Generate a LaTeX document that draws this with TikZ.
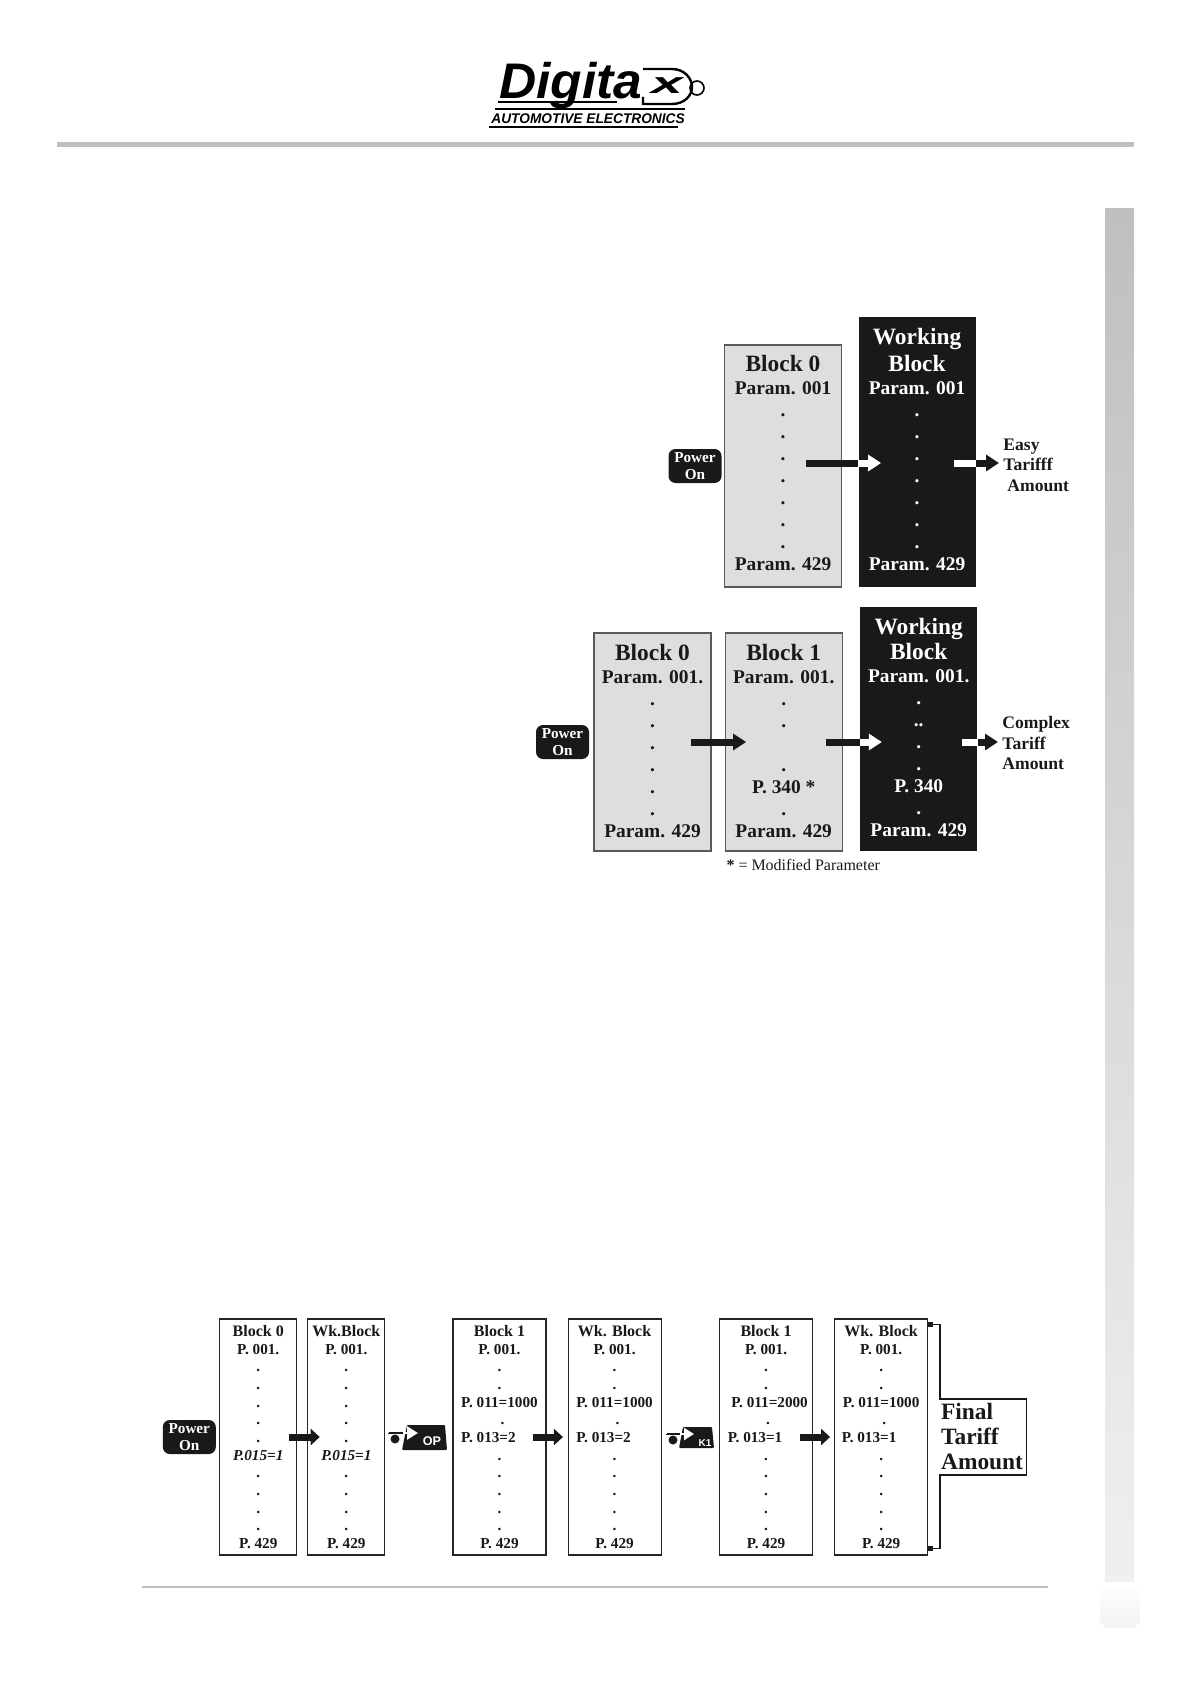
\documentclass[tikz,border=0pt]{standalone}
\usepackage{fontspec}
\setmainfont{Liberation Serif}
\setsansfont{Liberation Sans}
\usepackage{tikz}
\usetikzlibrary{arrows.meta, positioning}

\newcommand{\bigtitle}[1]{{\fontsize{11.7}{11}\selectfont #1}}
\newcommand{\lowtitle}[1]{{\fontsize{8}{8.82}\selectfont #1}}
\newcommand{\shifted}[2]{\mbox{\hspace{#1}#2}}

\begin{document}
\begin{tikzpicture}[
  x=0.5pt, y=-0.5pt,
  greyface/.style={rectangle, draw=black!65, line width=0.6pt, fill=black!13, inner sep=0pt, align=center, text=black!90},
  darkface/.style={rectangle, fill=black!90, inner sep=0pt, align=center, text=white},
  lowface/.style={rectangle, draw=black!85, line width=0.55pt, fill=white, inner sep=0pt, align=center, text=black!90,
    minimum width=38.5pt, minimum height=118pt, font=\bfseries\fontsize{7.6}{8.82}\selectfont},
  topfont/.style={minimum width=58.5pt, font=\bfseries\fontsize{9.7}{11}\selectfont,
    execute at end node={\rule[-3pt]{0pt}{0pt}}},
  midfont/.style={minimum width=58.5pt, font=\bfseries\fontsize{9.7}{11}\selectfont,
    execute at end node={\rule[-1.5pt]{0pt}{0pt}}},
  powerkey/.style={rectangle, rounded corners=3.5pt, fill=black!90, text=white, inner sep=0pt, align=center,
    minimum width=26.5pt, minimum height=17pt, font=\bfseries\fontsize{7.6}{8.5}\selectfont},
  tarifflabel/.style={inner xsep=2pt, inner ysep=0pt, align=left, text=black!90, anchor=west, font=\bfseries\fontsize{8.8}{10.25}\selectfont},
  barpart/.style={line width=3.5pt},
  tippart/.style={line width=3.5pt, -{Triangle[length=6.5pt, width=8pt]}},
  lowtip/.style={line width=3.5pt, black!90, -{Triangle[length=4.5pt, width=8pt]}},
  keytext/.style={inner sep=0pt, text=white, font=\sffamily\bfseries\fontsize{6.3}{7}\selectfont},
  keyball/.style={circle, fill=black!90, inner sep=0pt, minimum size=4.5pt},
  logoline/.style={line width=#1, black}
]
\useasboundingbox (0,0) rectangle (1191,1684);

% page furniture
\fill[black!25] (57,142) rectangle (1134,147);
\fill[black!25] (142,1586) rectangle (1048,1588);
\shade[top color=black!25, bottom color=black!6] (1105,209) rectangle (1134,1581);
\shade[top color=black!1, bottom color=black!5] (1100,1588) -- (1140,1588) -- (1140,1621) -- (1134,1628) -- (1106,1628) -- (1100,1621) -- cycle;

% logo
\node[anchor=west, inner sep=0pt, font=\sffamily\bfseries\itshape\fontsize{25}{25}\selectfont, xscale=1.03] (logoname) at (499,86) {Digita};
\node[anchor=west, inner sep=0pt, font=\sffamily\bfseries\itshape\fontsize{7}{7}\selectfont, xscale=0.98] (logosub) at (491,118.5) {AUTOMOTIVE ELECTRONICS};
\node[inner sep=0pt, font=\sffamily\bfseries\itshape\fontsize{15}{15}\selectfont, xscale=1.9] (logox) at (667,86) {x};
\node[circle, draw=black, line width=0.8pt, fill=white, inner sep=0pt, minimum size=7pt] (logoball) at (697,88) {};
\draw[logoline=1.2pt] (643,97) -- (643,104) -- (672,104) .. controls (684,104) and (692,96) .. (692,87) .. controls (692,78) and (684,69) .. (672,69) -- (643,69);
\draw[logoline=1.4pt] (498,102) -- (617,102);
\draw[logoline=0.7pt] (495,109) -- (685,109);
\draw[logoline=0.7pt] (489,127) -- (678,127);

% first chain
\node[greyface, topfont, minimum height=121pt] (blockA) at (783,466) {\bigtitle{Block 0}\\[0.5pt]Param. 001\\.\\.\\.\\.\\.\\.\\.\\Param. 429};
\node[darkface, topfont, minimum height=135pt, anchor=south west] (workA) at ([xshift=8pt]blockA.south east) {\bigtitle{Working}\\[2.5pt]\bigtitle{Block}\\[0.5pt]Param. 001\\.\\.\\.\\.\\.\\.\\.\\Param. 429};
\node[powerkey, left=1pt of blockA] (powerA) {Power\\On};
\node[tarifflabel] (easy) at (999,465) {Easy\\Tarifff\\\hspace*{2pt}Amount};
\coordinate (entryA) at ([yshift=1.5pt]blockA.east -| workA.west);
\coordinate (exitA) at (workA.east |- entryA);

\draw[barpart, black!90] ([xshift=-26pt]entryA) -- (entryA);
\draw[tippart, white] (entryA) -- ([xshift=11.5pt]entryA);
\draw[barpart, white] ([xshift=-11pt]exitA) -- (exitA);
\draw[tippart, black!90] (exitA) -- (easy.west |- exitA);

% second chain
\node[greyface, midfont, minimum height=109pt] (blockB) at (652.5,742) {\bigtitle{Block 0}\\[0.5pt]Param. 001.\\.\\.\\.\\.\\.\\.\\Param. 429};
\node[greyface, midfont, minimum height=109pt, right=6.5pt of blockB] (blockC) {\bigtitle{Block 1}\\[0.5pt]Param. 001.\\.\\.\\~\\.\\P. 340 *\\.\\Param. 429};
\node[darkface, midfont, minimum height=122pt, anchor=south west] (workB) at ([xshift=8.5pt]blockC.south east) {\bigtitle{Working}\\[1.5pt]\bigtitle{Block}\\[0.5pt]Param. 001.\\.\\..\\.\\.\\P. 340\\.\\Param. 429};
\node[powerkey, left=2pt of blockB] (powerB) {Power\\On};
\node[tarifflabel] (complex) at (998,743) {Complex\\Tariff\\Amount};
\node[anchor=west, inner xsep=0.75pt, inner ysep=0pt, font=\fontsize{8}{9}\selectfont, text=black!90] (modnote) at ([yshift=-6.5pt]blockC.south west) {{\bfseries *} = Modified Parameter};
\coordinate (entryB) at (blockC.east -| workB.west);
\coordinate (exitB) at (workB.east |- entryB);

\draw[tippart, black!90] ([xshift=-10.5pt]blockB.east) -- ([xshift=10.75pt]blockC.west);
\draw[barpart, black!90] ([xshift=-17pt]entryB) -- (entryB);
\draw[tippart, white] (entryB) -- ([xshift=11pt]entryB);
\draw[barpart, white] ([xshift=-8pt]exitB) -- (exitB);
\draw[tippart, black!90] (exitB) -- (complex.west |- exitB);

% third chain
\node[lowface] (blockD) at (258.25,1437) {\lowtitle{Block 0}\\P. 001.\\.\\.\\.\\.\\.\\\textit{P.015=1}\\.\\.\\.\\.\\P. 429};
\node[lowface, right=5pt of blockD] (workD) {\lowtitle{Wk.Block}\\P. 001.\\.\\.\\.\\.\\.\\\textit{P.015=1}\\.\\.\\.\\.\\P. 429};
\node[lowface, minimum width=46.5pt, right=33.5pt of workD] (blockE) {\lowtitle{Block 1}\\P. 001.\\.\\.\\P. 011=1000\\\shifted{3pt}{.}\\\mbox{P. 013=2\hspace{11pt}}\\.\\.\\.\\.\\.\\P. 429};
\node[lowface, minimum width=46.5pt, right=10.5pt of blockE] (workE) {\lowtitle{Wk. Block}\\P. 001.\\.\\.\\P. 011=1000\\\shifted{3pt}{.}\\\mbox{P. 013=2\hspace{11pt}}\\.\\.\\.\\.\\.\\P. 429};
\node[lowface, minimum width=46.5pt, right=28.7pt of workE] (blockF) {\lowtitle{Block 1}\\P. 001.\\.\\.\\\shifted{3.5pt}{P. 011=2000}\\\shifted{2pt}{.}\\\mbox{P. 013=1\hspace{11pt}}\\.\\.\\.\\.\\.\\P. 429};
\node[lowface, minimum width=46.5pt, right=10.5pt of blockF] (workF) {\lowtitle{Wk. Block}\\P. 001.\\.\\.\\P. 011=1000\\\shifted{3pt}{.}\\\mbox{P. 013=1\hspace{12pt}}\\.\\.\\.\\.\\.\\P. 429};
\node[powerkey, left=1.5pt of blockD] (powerD) {Power\\On};
\node[right=5.75pt of workF, minimum width=43pt, minimum height=37.5pt, inner sep=0pt, align=left, text=black!90, text width=42pt, font=\bfseries\fontsize{11.7}{12.5}\selectfont] (finalamt) {Final\\Tariff\\Amount};

\draw[lowtip] ([xshift=-4pt]blockD.east) -- ([xshift=6.2pt]workD.west);
\draw[lowtip] ([xshift=-6.8pt]blockE.east) -- ([xshift=-2.3pt]workE.west);
\draw[lowtip] ([xshift=-6.5pt]blockF.east) -- ([xshift=-2pt]workF.west);

\coordinate (tophook) at ([yshift=-3pt]workF.north east);
\coordinate (lowhook) at ([yshift=3.5pt]workF.south east);
\draw[line width=0.8pt, black!90, {Square[length=2.2pt, width=2.2pt]}-{Square[length=2.2pt, width=2.2pt]}]
  (tophook) -| (finalamt.north west) -| (finalamt.south east) -- (finalamt.south west) |- (lowhook);

% key symbols
\fill[black!90, rounded corners=0.5pt] (407,1425) -- (445,1425) -- (447,1450) -- (402,1450) -- cycle;
\node[keytext] (oplabel) at (432,1441) {OP};
\node[keyball] (ballop) at (395,1439) {};
\coordinate (stemop) at (389,1433);
\draw[line width=0.7pt, black!90] (stemop) -- (ballop.north -| stemop);
\draw[line width=1pt, black!90] (stemop) -- ([xshift=7pt]stemop);
\draw[line width=1.2pt, white, -{Triangle[length=5.5pt, width=6.5pt]}] ([xshift=7pt]stemop) -- ([xshift=14.5pt]stemop);

\fill[black!90, rounded corners=0.5pt] (683,1427) -- (712,1427) -- (714,1448) -- (679,1448) -- cycle;
\node[keytext, font=\sffamily\bfseries\fontsize{5}{6}\selectfont] (onelabel) at (705,1443) {K1};
\node[keyball] (ballone) at (673,1440) {};
\coordinate (stemone) at (667,1434);
\draw[line width=0.7pt, black!90] (stemone) -- (ballone.north -| stemone);
\draw[line width=1pt, black!90] (stemone) -- ([xshift=6.5pt]stemone);
\draw[line width=1.2pt, white, -{Triangle[length=5pt, width=6pt]}] ([xshift=6.5pt]stemone) -- ([xshift=13.5pt]stemone);
\end{tikzpicture}
\end{document}
